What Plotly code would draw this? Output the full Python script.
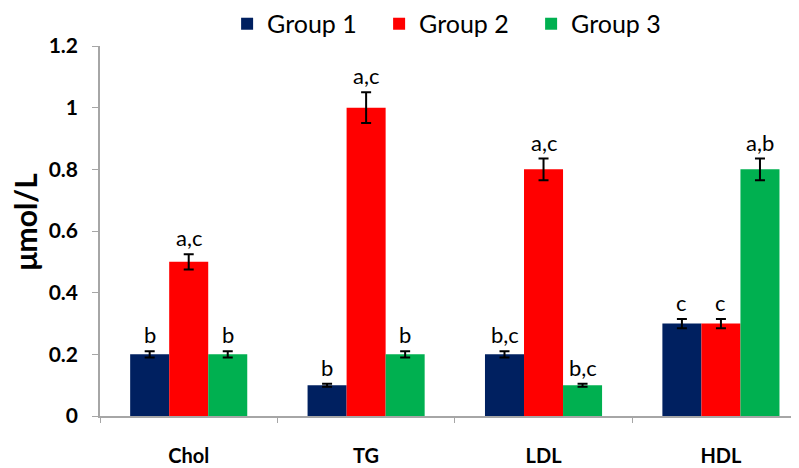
import plotly.graph_objects as go

categories = ["Chol", "TG", "LDL", "HDL"]
groups = ["Group 1", "Group 2", "Group 3"]
group1 = [0.2, 0.1, 0.2, 0.3]
group2 = [0.5, 1.0, 0.8, 0.3]
group3 = [0.2, 0.2, 0.1, 0.8]
err1 = [0.01, 0.005, 0.01, 0.015]
err2 = [0.025, 0.05, 0.035, 0.015]
err3 = [0.01, 0.01, 0.005, 0.035]
labels1 = ["b", "b", "b,c", "c"]
labels2 = ["a,c", "a,c", "a,c", "c"]
labels3 = ["b", "b", "b,c", "a,b"]
colors = ["#002060", "#FF0000", "#00B050"]
yticks = [0, 0.2, 0.4, 0.6, 0.8, 1, 1.2]
yticktext = ["0", "0.2", "0.4", "0.6", "0.8", "1", "1.2"]
ytitle = "μmol/L"

FONT = "Lato, Open Sans, sans-serif"
values = [group1, group2, group3]
errs = [err1, err2, err3]
labs = [labels1, labels2, labels3]

fig = go.Figure()
for g, v, e, c in zip(groups, values, errs, colors):
    fig.add_trace(go.Bar(
        name=g, x=categories, y=v, marker_color=c, marker_line_width=0,
        error_y=dict(type="data", array=e, color="black", thickness=2, width=5),
    ))

offsets = [-39, 0, 39]
annotations = []
for v, e, l, off in zip(values, errs, labs, offsets):
    for cat, vv, ee, ll in zip(categories, v, e, l):
        annotations.append(dict(
            x=cat, y=vv + ee, text=ll, showarrow=False, xshift=off,
            yanchor="bottom", yshift=1, font=dict(family=FONT, size=22, color="black"),
        ))
# y-axis title
annotations.append(dict(
    x=-0.107, y=0.526, xref="paper", yref="paper", text=ytitle, textangle=-90,
    showarrow=False, xanchor="center", yanchor="middle",
    font=dict(family=FONT, size=30, color="black", weight="bold"),
))

fig.update_layout(
    width=791, height=460,
    margin=dict(l=92, r=0, t=38, b=52, autoexpand=False),
    plot_bgcolor="white", paper_bgcolor="white",
    barmode="group", bargap=0.34, bargroupgap=0,
    font=dict(family=FONT, color="black"),
    legend=dict(orientation="h", x=0.277, xanchor="left", xref="container",
                y=1.0595, yanchor="middle", yref="paper",
                font=dict(size=25, family=FONT), itemsizing="constant",
                entrywidth=107, entrywidthmode="pixels", tracegroupgap=0),
    annotations=annotations,
    showlegend=True,
)
fig.update_xaxes(
    range=[-0.5, 3.44], showline=True, linecolor="#A6A6A6", linewidth=1.5,
    ticks="outside", tickson="boundaries", ticklen=5, tickcolor="#A6A6A6",
    tickfont=dict(size=20, family=FONT, color="black", weight="bold"),
    ticklabelstandoff=21, showgrid=False, automargin=False,
)
fig.update_yaxes(
    range=[0, 1.2], tickvals=yticks, ticktext=yticktext,
    showline=True, linecolor="#A6A6A6", linewidth=1.5,
    ticks="outside", ticklen=6, tickcolor="#A6A6A6",
    tickfont=dict(size=21, family=FONT, color="black", weight="bold"),
    ticklabelstandoff=10,
    showgrid=False, zeroline=False, automargin=False,
)
fig.write_html("out.html")
